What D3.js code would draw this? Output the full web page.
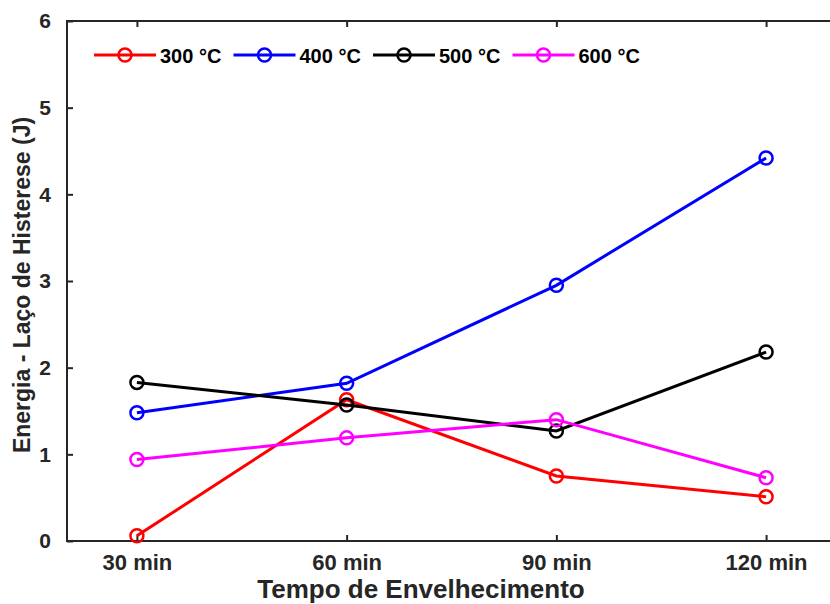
<!DOCTYPE html>
<html>
<head>
<meta charset="utf-8">
<script src="https://cdn.jsdelivr.net/npm/d3@7"></script>
<style>
  html, body { margin: 0; padding: 0; background: #fff; }
  svg { display: block; font-family: "Liberation Sans", Arial, Helvetica, sans-serif; font-weight: bold; }
</style>
</head>
<body>
<svg id="chart" width="830" height="604"></svg>
<script>
// Aging time (minutes) for each measurement
const tempos = [30, 60, 90, 120];
const temposLabels = ["30 min", "60 min", "90 min", "120 min"];

// Hysteresis loop energy (J) per aging temperature
const serie300 = [0.06, 1.63, 0.75, 0.51];
const serie400 = [1.48, 1.82, 2.95, 4.42];
const serie500 = [1.83, 1.57, 1.27, 2.18];
const serie600 = [0.94, 1.19, 1.40, 0.73];

const seriesNames = ["300 °C", "400 °C", "500 °C", "600 °C"];
const yTicks = [0, 1, 2, 3, 4, 5, 6];

const series = [
  { name: seriesNames[0], values: serie300, color: "#ff0000" },
  { name: seriesNames[1], values: serie400, color: "#0000ff" },
  { name: seriesNames[2], values: serie500, color: "#000000" },
  { name: seriesNames[3], values: serie600, color: "#ff00ff" }
];

const svg = d3.select("#chart");
const plotL = 67, plotR = 836, plotT = 21, plotB = 541;

const x = d3.scaleLinear().domain([20, 130]).range([plotL, plotR]);
const y = d3.scaleLinear().domain([0, 6]).range([plotB, plotT]);

const axisColor = "#262626";
const tickLen = 6;
const fontFam = "Liberation Sans, Arial, sans-serif";

// Box frame
svg.append("rect")
  .attr("x", plotL).attr("y", plotT)
  .attr("width", plotR - plotL).attr("height", plotB - plotT)
  .attr("fill", "none").attr("stroke", axisColor).attr("stroke-width", 2);

// Bottom axis with inward ticks
const xAxis = d3.axisBottom(x)
  .tickValues(tempos)
  .tickFormat((d, i) => temposLabels[i])
  .tickSizeInner(-tickLen).tickSizeOuter(0).tickPadding(13);
const gx = svg.append("g").attr("transform", `translate(0,${plotB})`).call(xAxis);
gx.select(".domain").remove();
gx.selectAll("line").attr("stroke", axisColor).attr("stroke-width", 2);
gx.selectAll("text").attr("fill", axisColor).attr("font-size", 22).attr("font-weight", "bold")
  .attr("font-family", fontFam);

// Top axis ticks
const gxTop = svg.append("g").attr("transform", `translate(0,${plotT})`)
  .call(d3.axisTop(x).tickValues(tempos).tickFormat("").tickSizeInner(-tickLen).tickSizeOuter(0));
gxTop.select(".domain").remove();
gxTop.selectAll("line").attr("stroke", axisColor).attr("stroke-width", 2);

// Left axis with inward ticks
const yAxis = d3.axisLeft(y).tickValues(yTicks).tickFormat(d3.format("d"))
  .tickSizeInner(-tickLen).tickSizeOuter(0).tickPadding(16);
const gy = svg.append("g").attr("transform", `translate(${plotL},0)`).call(yAxis);
gy.select(".domain").remove();
gy.selectAll("line").attr("stroke", axisColor).attr("stroke-width", 2);
gy.selectAll("text").attr("fill", axisColor).attr("font-size", 21).attr("font-weight", "bold")
  .attr("font-family", fontFam);

// Right axis ticks
const gyR = svg.append("g").attr("transform", `translate(${plotR},0)`)
  .call(d3.axisRight(y).tickValues(yTicks).tickFormat("").tickSizeInner(-tickLen).tickSizeOuter(0));
gyR.select(".domain").remove();
gyR.selectAll("line").attr("stroke", axisColor).attr("stroke-width", 2);

// Axis titles
svg.append("text")
  .attr("x", 421).attr("y", 598)
  .attr("text-anchor", "middle").attr("font-size", 26).attr("fill", axisColor)
  .text("Tempo de Envelhecimento");

svg.append("text")
  .attr("transform", `translate(30,285) rotate(-90)`)
  .attr("text-anchor", "middle").attr("font-size", 23).attr("fill", axisColor)
  .text("Energia - Laço de Histerese (J)");

// Series lines and hollow circle markers
const line = d3.line().x((d, i) => x(tempos[i])).y(d => y(d));

series.forEach(s => {
  svg.append("path").datum(s.values)
    .attr("d", line).attr("fill", "none")
    .attr("stroke", s.color).attr("stroke-width", 3);
  svg.append("g").selectAll("circle").data(s.values).join("circle")
    .attr("cx", (d, i) => x(tempos[i])).attr("cy", d => y(d))
    .attr("r", 6.5).attr("fill", "none")
    .attr("stroke", s.color).attr("stroke-width", 2.5);
});

// Legend (horizontal, top-left inside the axes)
const legend = svg.append("g");
const legY = 55, legX0 = 94, legStep = 139.5;
series.forEach((s, i) => {
  const gx0 = legX0 + i * legStep;
  const g = legend.append("g").attr("transform", `translate(${gx0},${legY})`);
  g.append("line").attr("x1", 0).attr("x2", 62).attr("y1", 0).attr("y2", 0)
    .attr("stroke", s.color).attr("stroke-width", 3);
  g.append("circle").attr("cx", 31).attr("cy", 0).attr("r", 6.5)
    .attr("fill", "none").attr("stroke", s.color).attr("stroke-width", 2.5);
  g.append("text").attr("x", 66).attr("y", 7.5).attr("font-size", 20)
    .attr("fill", "#000").text(s.name);
});
</script>
</body>
</html>
